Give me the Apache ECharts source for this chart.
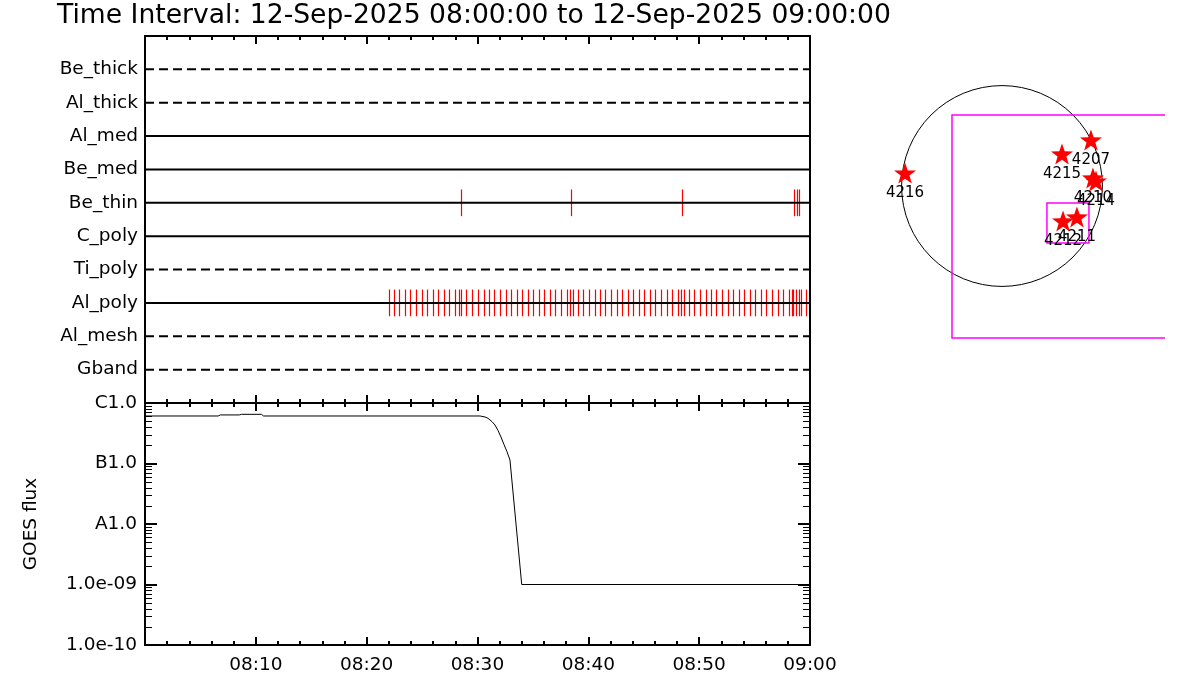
<!DOCTYPE html>
<html>
<head>
<meta charset="utf-8">
<script src="https://cdn.jsdelivr.net/npm/echarts@6/dist/echarts.min.js"></script>
<style>html,body{margin:0;padding:0;background:#fff}#c{width:1200px;height:700px}</style>
</head>
<body>
<div id="c"></div>
<script>
// ---------- data ----------
const titleText = 'Time Interval: 12-Sep-2025 08:00:00 to 12-Sep-2025 09:00:00';
const categories = ['Be_thick','Al_thick','Al_med','Be_med','Be_thin','C_poly','Ti_poly','Al_poly','Al_mesh','Gband'];
const rowDashed = [true,true,false,false,false,false,true,false,true,true];
const xTickLabels = ['08:00','08:10','08:20','08:30','08:40','08:50','09:00'];
// exposure times, minutes after 08:00
const beThinTimes = [28.48, 38.46, 48.48, 58.58, 58.80, 59.01];
const alPolyTimes = [22.04,22.49,22.94,23.49,23.94,24.48,25.02,25.47,26.01,26.46,27.00,27.46,28.00,28.36,28.54,28.99,
  29.53,30.07,30.61,31.06,31.52,32.06,32.60,33.05,33.59,34.04,34.58,35.03,35.58,36.03,36.57,37.02,37.56,38.10,38.37,
  38.64,39.09,39.55,40.09,40.63,41.08,41.53,42.07,42.61,43.06,43.61,44.06,44.60,45.05,45.59,46.04,46.58,47.13,47.58,
  48.12,48.39,48.66,49.11,49.56,50.10,50.64,51.09,51.55,52.09,52.63,53.08,53.62,54.07,54.61,55.07,55.61,56.06,56.60,
  57.14,57.59,58.13,58.35,58.44,58.76,58.98,59.22,59.67];
// GOES flux curve
const goesTimes = [0, 6.6, 6.8, 8.5, 8.7, 10.5, 10.7, 30.23, 30.68, 30.95, 31.31, 31.58, 31.85, 32.12, 32.39, 32.66, 32.93, 33.99, 60];
const goesFlux  = [6.1e-7, 6.1e-7, 6.35e-7, 6.35e-7, 6.5e-7, 6.5e-7, 6.1e-7, 6.1e-7, 5.87e-7, 5.59e-7, 4.91e-7, 4.33e-7, 3.51e-7, 2.74e-7, 2.06e-7, 1.57e-7, 1.14e-7, 1.0e-9, 1.0e-9];
const yTickValues = [1e-10, 1e-9, 1e-8, 1e-7, 1e-6];
const yTickLabels = ['1.0e-10','1.0e-09','A1.0','B1.0','C1.0'];
// solar disk map (arcsec)
const sunRadius = 954;
const fovBox = [-475, 674, 1900, -1444];
const subBox = [427, -161, 826, -541];
const arNames = ['4216','4207','4215','4210','4214','4212','4211'];
const arX = [-921, 845, 570, 864, 893, 580, 712];
const arY = [123, 437, 304, 76, 47, -332, -294];

// ---------- chart ----------
const F = 'DejaVu Sans';
const chart = echarts.init(document.getElementById('c'), null, {renderer:'canvas'});
const black = '#000';
function timeAxis(grid, pos, labels){
  return {
    gridIndex: grid, type:'value', position: pos, min:0, max:60, interval:10,
    axisLine:{show:true, onZero:false, lineStyle:{color:black, width:2}},
    axisTick:{show:true, inside:true, length:8, lineStyle:{color:black, width:2}},
    minorTick:{show:true, splitNumber:5, length:4, lineStyle:{color:black, width:2}},
    axisLabel: labels ? {show:true, margin:11, color:black, fontFamily:F, fontSize:18.5,
      formatter: v => v === 0 ? '' : xTickLabels[Math.round(v/10)]} : {show:false},
    splitLine:{show:false}, minorSplitLine:{show:false}
  };
}
const series = [];
// filter exposure marks
function markSeries(times, row){
  return {
    type:'custom', xAxisIndex:0, yAxisIndex:0, silent:true, z:2,
    data: times.map(t => [t, row]),
    renderItem: (params, api) => {
      const a = api.coord([api.value(0), api.value(1) - 0.4]);
      const b = api.coord([api.value(0), api.value(1) + 0.4]);
      const x = Math.round(a[0]) + 0.5;
      return {type:'line', shape:{x1:x, y1:a[1], x2:x, y2:b[1]}, style:{stroke:'#ff0000', lineWidth:1.2}};
    }
  };
}
series.push(markSeries(beThinTimes, categories.indexOf('Be_thin') + 1));
series.push(markSeries(alPolyTimes, categories.indexOf('Al_poly') + 1));
categories.forEach((c, i) => {
  series.push({
    type:'line', xAxisIndex:0, yAxisIndex:0, silent:true, symbol:'none', z:3,
    data:[[0, i+1],[60, i+1]],
    lineStyle:{color:black, width:2, type: rowDashed[i] ? [9,5] : 'solid'}
  });
});
// GOES curve
series.push({
  type:'line', xAxisIndex:3, yAxisIndex:2, silent:true, symbol:'none',
  data: goesTimes.map((t, i) => [t, goesFlux[i]]),
  lineStyle:{color:black, width:1}
});
// log minor ticks on both sides
const minorVals = [];
for (let d = 0; d < yTickValues.length - 1; d++) for (let m = 2; m <= 9; m++) minorVals.push([0, m * yTickValues[d]]);
series.push({
  type:'custom', xAxisIndex:3, yAxisIndex:2, silent:true, z:5,
  data: minorVals,
  renderItem: (params, api) => {
    const l = api.coord([0, api.value(1)]);
    const r = api.coord([60, api.value(1)]);
    const y = Math.round(l[1]) + 0.5;
    return {type:'group', children:[
      {type:'line', shape:{x1:l[0], y1:y, x2:l[0]+7, y2:y}, style:{stroke:black, lineWidth:1}},
      {type:'line', shape:{x1:r[0], y1:y, x2:r[0]-7, y2:y}, style:{stroke:black, lineWidth:1}}
    ]};
  }
});
// solar disk
series.push({
  type:'custom', xAxisIndex:4, yAxisIndex:4, silent:true,
  data:[[0, 0, sunRadius]],
  renderItem: (params, api) => {
    const c = api.coord([api.value(0), api.value(1)]);
    const r = api.size([api.value(2), 0])[0];
    return {type:'circle', shape:{cx:c[0], cy:c[1], r:r}, style:{fill:'none', stroke:black, lineWidth:1}};
  }
});
// field of view boxes (drawn as outlines, clipped to the plot window)
series.push({
  type:'custom', xAxisIndex:4, yAxisIndex:4, silent:true, clip:true,
  data:[fovBox, subBox],
  renderItem: (params, api) => {
    const x1 = api.value(0), y1 = api.value(1), x2 = api.value(2), y2 = api.value(3);
    const pts = [api.coord([x2, y1]), api.coord([x1, y1]), api.coord([x1, y2]), api.coord([x2, y2]), api.coord([x2, y1])];
    const cs = params.coordSys;
    const right = cs.x + cs.width;
    // close the outline only when its right side lies inside the window
    const closed = pts[0][0] <= right;
    const p = closed ? pts : pts.slice(0, 4).map(q => [Math.min(q[0], right), q[1]]);
    return {type:'polyline', shape:{points:p}, style:{fill:'none', stroke:'#ff00ff', lineWidth:1.5}};
  }
});
// active regions
series.push({
  type:'scatter', xAxisIndex:4, yAxisIndex:4, silent:true, z:4,
  symbol:'path://M50 0 L61.76 33.82 L97.55 34.55 L69.02 56.18 L79.39 90.45 L50 70 L20.61 90.45 L30.98 56.18 L2.45 34.55 L38.24 33.82 Z',
  symbolSize:[22, 21],
  itemStyle:{color:'#ff0000', opacity:1},
  data: arNames.map((n, i) => [arX[i], arY[i], n]),
  label:{show:true, position:'bottom', distance:2, color:'#000', fontFamily:F, fontSize:15, formatter: p => p.data[2]},
  labelLayout:{hideOverlap:false}
});

const option = {
  animation:false,
  backgroundColor:'#fff',
  textStyle:{fontFamily:F},
  title:{text:titleText, left:57, top:3, padding:0,
    textStyle:{fontFamily:F, fontSize:26.6, fontWeight:'normal', color:black}},
  grid:[
    {left:145, top:36, width:665, height:367},
    {left:145, top:403, width:665, height:242},
    {left:862, top:61.8, width:303, height:284.2}
  ],
  xAxis:[
    timeAxis(0, 'bottom', false),
    timeAxis(0, 'top', false),
    timeAxis(1, 'top', false),
    timeAxis(1, 'bottom', true),
    {gridIndex:2, type:'value', min:-1330, max:1548.5, show:false}
  ],
  yAxis:[
    {gridIndex:0, type:'value', min:0, max:11, interval:1, inverse:true, position:'left',
      axisLine:{show:true, onZero:false, lineStyle:{color:black, width:2}}, axisTick:{show:false},
      axisLabel:{show:true, margin:7, color:black, fontFamily:F, fontSize:18.5,
        formatter: v => (v >= 1 && v <= categories.length) ? categories[v-1] : ''},
      splitLine:{show:false}},
    {gridIndex:0, type:'value', min:0, max:11, interval:1, inverse:true, position:'right',
      axisLine:{show:true, onZero:false, lineStyle:{color:black, width:2}}, axisTick:{show:false},
      axisLabel:{show:false}, splitLine:{show:false}},
    {gridIndex:1, type:'log', logBase:10, min:1e-10, max:1e-6, position:'left',
      axisLine:{show:true, onZero:false, lineStyle:{color:black, width:2}},
      axisTick:{show:true, inside:true, length:12, lineStyle:{color:black, width:2}},
      axisLabel:{show:true, margin:8, color:black, fontFamily:F, fontSize:18.5,
        formatter: v => { const k = Math.round(Math.log10(v)); const i = yTickValues.findIndex(t => Math.round(Math.log10(t)) === k); return i >= 0 ? yTickLabels[i] : ''; }},
      name:'GOES flux', nameLocation:'middle', nameRotate:90, nameGap:104,
      nameTextStyle:{color:black, fontFamily:F, fontSize:18.5},
      splitLine:{show:false}, minorTick:{show:false}},
    {gridIndex:1, type:'log', logBase:10, min:1e-10, max:1e-6, position:'right',
      axisLine:{show:true, onZero:false, lineStyle:{color:black, width:2}},
      axisTick:{show:true, inside:true, length:12, lineStyle:{color:black, width:2}},
      axisLabel:{show:false}, splitLine:{show:false}},
    {gridIndex:2, type:'value', min:-1520, max:1180, show:false}
  ],
  series: series
};
chart.setOption(option);
</script>
</body>
</html>
